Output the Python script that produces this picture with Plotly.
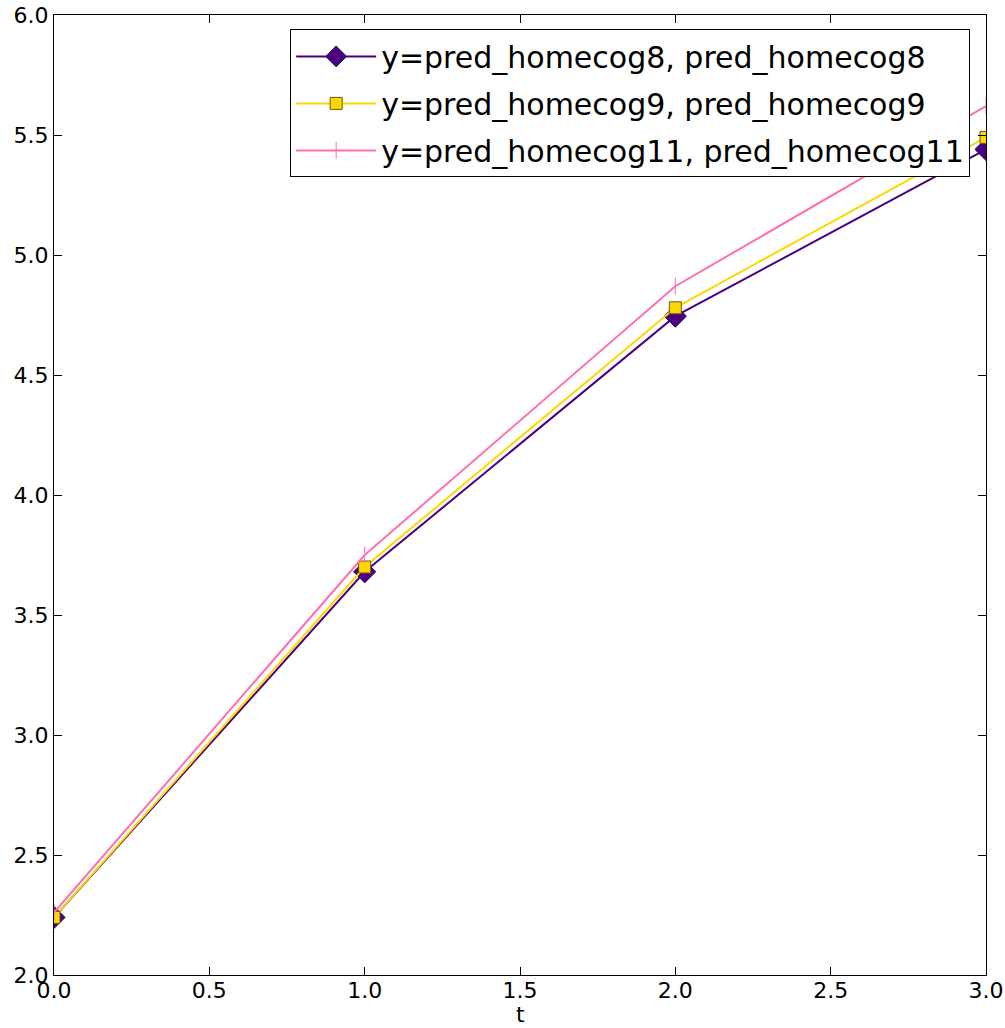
import plotly.graph_objects as go

t = [0, 1, 2, 3]
pred_homecog8 = [2.24, 3.68, 4.745, 5.44]
pred_homecog9 = [2.24, 3.70, 4.78, 5.49]
pred_homecog11 = [2.26, 3.75, 4.87, 5.62]

fig = go.Figure()
fig.add_trace(go.Scatter(
    x=t, y=pred_homecog8, mode="lines+markers",
    name="y=pred_homecog8, pred_homecog8", legendgroup="a",
    line=dict(color="#4B0082", width=2),
    marker=dict(symbol="diamond", size=17, color="#4B0082",
                line=dict(color="#2a0050", width=1)),
))
fig.add_trace(go.Scatter(
    x=t, y=pred_homecog9, mode="lines+markers",
    name="y=pred_homecog9, pred_homecog9", legendgroup="b",
    line=dict(color="#FFD700", width=2),
    marker=dict(symbol="square", size=12, color="#FFD700",
                line=dict(color="#6b5a10", width=1)),
))
fig.add_trace(go.Scatter(
    x=t, y=pred_homecog11, mode="lines+markers",
    name="y=pred_homecog11, pred_homecog11", legendgroup="c",
    line=dict(color="#FF6EB4", width=2),
    marker=dict(symbol="line-ns", size=12, color="#FF6EB4",
                line=dict(color="#FF6EB4", width=1)),
))

axis_common = dict(
    showgrid=False, zeroline=False, showline=True, linecolor="black",
    linewidth=1, mirror="allticks", ticks="inside", ticklen=8,
    tickcolor="black", automargin=False,
    tickfont=dict(family="DejaVu Sans", size=22, color="black"),
)
fig.update_xaxes(range=[0, 3], tickvals=[0, 0.5, 1, 1.5, 2, 2.5, 3],
                 ticktext=["0.0", "0.5", "1.0", "1.5", "2.0", "2.5", "3.0"],
                 ticklabelstandoff=-4,
                 **axis_common)
fig.update_yaxes(range=[2, 6], tickvals=[2, 2.5, 3, 3.5, 4, 4.5, 5, 5.5, 6],
                 ticktext=["2.0", "2.5", "3.0", "3.5", "4.0", "4.5", "5.0", "5.5", "6.0"],
                 **axis_common)

fig.add_annotation(text="t", x=0.5, y=0, xref="paper", yref="paper",
                   xanchor="center", yanchor="bottom", yshift=-53, showarrow=False,
                   borderpad=0,
                   font=dict(family="DejaVu Sans", size=22, color="black"))

fig.update_layout(
    width=1005, height=1028,
    margin=dict(l=54, r=19, t=15, b=53),
    plot_bgcolor="white", paper_bgcolor="white",
    font=dict(family="DejaVu Sans", color="black"),
    legend=dict(x=0.983, y=0.985, xanchor="right", yanchor="top",
                bordercolor="black", borderwidth=1, bgcolor="white",
                font=dict(family="DejaVu Sans", size=30, color="black"),
                itemwidth=80, tracegroupgap=5),
    showlegend=True,
)

fig.write_html("out.html")
